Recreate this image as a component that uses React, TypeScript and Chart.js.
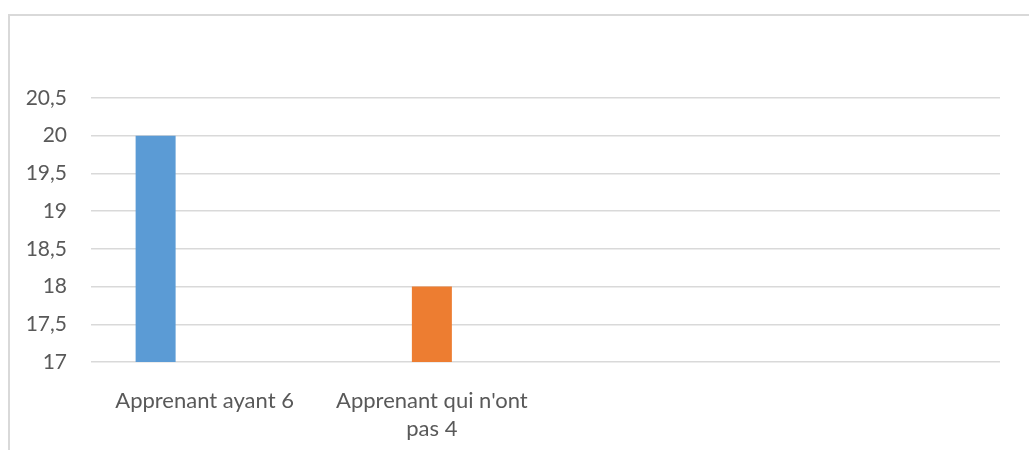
import React, { useEffect, useRef } from "react";
import { Chart, registerables } from "chart.js";

Chart.register(...registerables);

const categories: (string | string[])[] = [
  "Apprenant ayant 6",
  ["Apprenant qui n'ont", "pas 4"],
  "",
  "",
];
const series1Values: (number | null)[] = [20, null, null, null];
const series2Values: (number | null)[] = [null, 18, null, null];
const series3Values: (number | null)[] = [null, null, null, null];
const yMin = 17;
const yMax = 20.5;
const yStep = 0.5;

const FONT = "Lato, 'Open Sans', sans-serif";
const TEXT = "#595959";
const GRID = "#d9d9d9";

export default function App() {
  const ref = useRef<HTMLCanvasElement | null>(null);

  useEffect(() => {
    if (!ref.current) return;
    const chart = new Chart(ref.current, {
      type: "bar",
      data: {
        labels: categories,
        datasets: [
          { label: "Série 1", data: series1Values, backgroundColor: "#5B9BD5" },
          { label: "Série 2", data: series2Values, backgroundColor: "#ED7D31" },
          { label: "Série 3", data: series3Values, backgroundColor: "#A5A5A5" },
        ],
      },
      options: {
        animation: false,
        responsive: false,
        maintainAspectRatio: false,
        categoryPercentage: 0.647,
        barPercentage: 0.816,
        layout: { padding: { left: 0, right: 29, top: 82, bottom: 0 } },
        plugins: {
          legend: { display: false },
          tooltip: { enabled: false },
          title: { display: false },
        },
        scales: {
          x: {
            grid: { display: false, drawTicks: false },
            border: { display: false },
            ticks: {
              color: TEXT,
              font: { family: FONT, size: 22, lineHeight: 1.28 },
              padding: 25,
              maxRotation: 0,
              autoSkip: false,
            },
            afterFit: (s: any) => {
              s.height = 88;
            },
          },
          y: {
            min: yMin,
            max: yMax,
            grid: { color: GRID, lineWidth: 1.5, drawTicks: false },
            border: { display: false },
            ticks: {
              stepSize: yStep,
              color: TEXT,
              font: { family: FONT, size: 21 },
              padding: 24,
              callback: (v: any) => String(v).replace(".", ","),
            },
            afterFit: (s: any) => {
              s.width = 81;
            },
          },
        },
      },
    });
    return () => chart.destroy();
  }, []);

  return (
    <div
      style={{
        position: "absolute",
        left: 8,
        top: 14,
        width: 1019,
        height: 434,
        borderLeft: `2px solid ${GRID}`,
        borderTop: `2px solid ${GRID}`,
        background: "#fff",
      }}
    >
      <canvas ref={ref} width={1019} height={434} style={{ display: "block" }} />
    </div>
  );
}
